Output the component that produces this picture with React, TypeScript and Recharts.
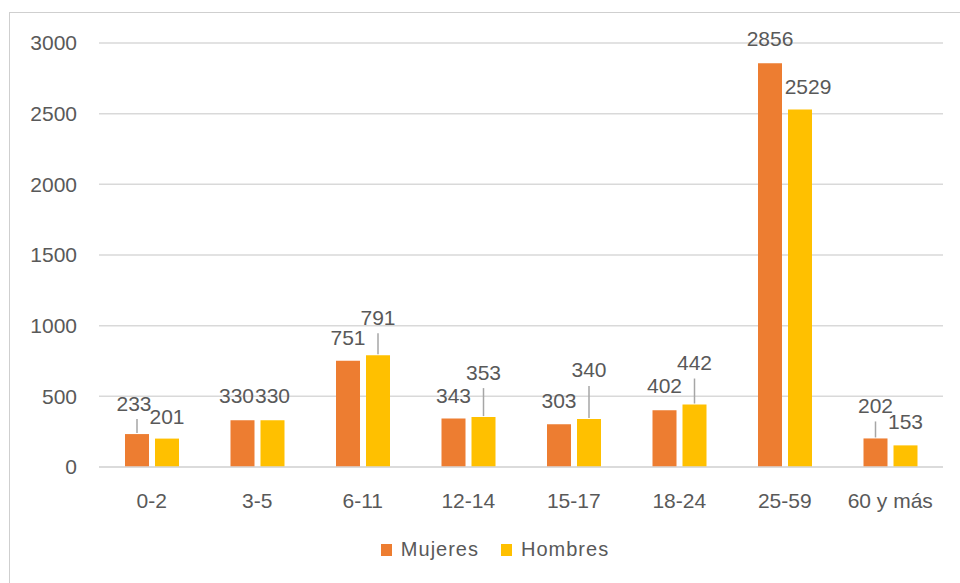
import { Bar, BarChart, CartesianGrid, LabelList, XAxis, YAxis } from 'recharts'

const grupos = ['0-2', '3-5', '6-11', '12-14', '15-17', '18-24', '25-59', '60 y más']
const mujeres = [233, 330, 751, 343, 303, 402, 2856, 202]
const hombres = [201, 330, 791, 353, 340, 442, 2529, 153]
const yTicks = [0, 500, 1000, 1500, 2000, 2500, 3000]

const ORANGE = '#ED7D31'
const YELLOW = '#FFC000'
const TEXT = '#595959'
const GRID = '#d9d9d9'
const FONT = '"Liberation Sans", Arial, sans-serif'
const FS = 21

// label nudges (text centre relative to bar top-centre), like the hand-moved Excel labels
const NUDGE_M: Array<[number, number]> = [[-3, -31], [-6, -25], [0, -23], [0, -23], [0, -24], [0, -25], [0, -25], [0, -33]]
const NUDGE_H: Array<[number, number]> = [[0, -22], [0, -25], [0, -38], [0, -45], [0, -49], [0, -42], [8, -23], [0, -24]]

const rows = grupos.map((g, i) => ({ grupo: g, Mujeres: mujeres[i], Hombres: hombres[i] }))

function makeLabel(nudges: Array<[number, number]>) {
  return (props: any) => {
    const { x, y, width, value, index } = props
    const [dx, dy] = nudges[index] ?? [0, -24]
    const cx = Number(x) + Number(width) / 2
    const top = Number(y)
    const ty = top + dy
    return (
      <g>
        {dy < -30 ? (
          <line x1={cx} x2={cx} y1={ty + 16} y2={top - 1} stroke="#a6a6a6" strokeWidth={1.5} />
        ) : null}
        <text x={cx + dx} y={ty + 7.5} textAnchor="middle" fill={TEXT} fontSize={FS} fontFamily={FONT}>
          {value}
        </text>
      </g>
    )
  }
}

function LegendBox() {
  const items = [
    { name: 'Mujeres', color: ORANGE },
    { name: 'Hombres', color: YELLOW },
  ]
  return (
    <div
      style={{
        position: 'absolute',
        left: 0,
        top: 538,
        width: 990,
        display: 'flex',
        justifyContent: 'center',
        gap: 22,
        fontFamily: FONT,
        fontSize: 20,
        color: TEXT,
      }}
    >
      {items.map((it) => (
        <span key={it.name} style={{ display: 'inline-flex', alignItems: 'center', gap: 9 }}>
          <span style={{ width: 11, height: 12, background: it.color, display: 'inline-block' }} />
          <span style={{ letterSpacing: 1 }}>{it.name}</span>
        </span>
      ))}
    </div>
  )
}

export default function App() {
  return (
    <div style={{ position: 'absolute', left: 0, top: 0, width: 960, height: 583, overflow: 'hidden', background: '#fff' }}>
      <div
        style={{
          position: 'absolute',
          left: 9,
          top: 12,
          width: 960,
          height: 600,
          border: '1.5px solid #cfcfcf',
        }}
      />
      <div style={{ position: 'absolute', left: 0, top: 0 }}>
        <BarChart
          width={960}
          height={583}
          data={rows}
          margin={{ top: 43, right: 17, bottom: 86, left: 0 }}
          barSize={24}
          barGap={6}
        >
          <CartesianGrid vertical={false} stroke={GRID} strokeWidth={1.5} />
          <XAxis
            dataKey="grupo"
            height={30}
            axisLine={{ stroke: GRID, strokeWidth: 1.5 }}
            tickLine={false}
            tickMargin={20}
            tick={{ fill: TEXT, fontSize: FS, fontFamily: FONT }}
            interval={0}
          />
          <YAxis
            width={99}
            domain={[0, 3000]}
            ticks={yTicks}
            axisLine={false}
            tickLine={false}
            tickMargin={16}
            tick={{ fill: TEXT, fontSize: FS, fontFamily: FONT }}
          />
          <Bar dataKey="Mujeres" fill={ORANGE} isAnimationActive={false}>
            <LabelList dataKey="Mujeres" content={makeLabel(NUDGE_M)} />
          </Bar>
          <Bar dataKey="Hombres" fill={YELLOW} isAnimationActive={false}>
            <LabelList dataKey="Hombres" content={makeLabel(NUDGE_H)} />
          </Bar>
        </BarChart>
      </div>
      <LegendBox />
    </div>
  )
}
